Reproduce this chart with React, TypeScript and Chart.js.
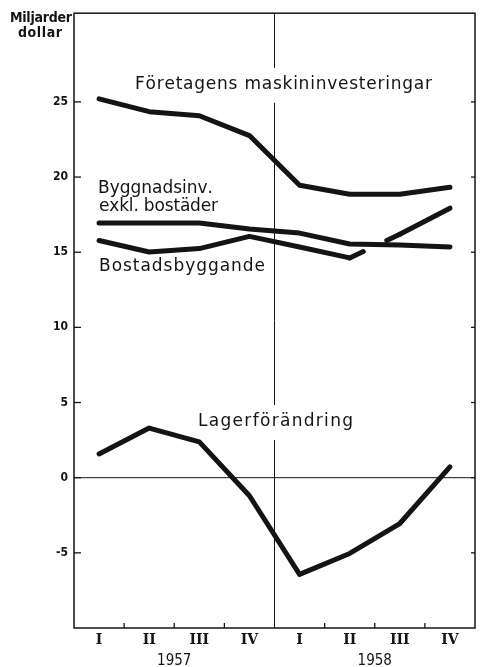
import { useEffect, useRef } from 'react';
import { Chart, registerables } from 'chart.js';

Chart.register(...registerables);

// ---- data ----
const quarterLabels = ['I', 'II', 'III', 'IV', 'I', 'II', 'III', 'IV'];
const yearLabels = ['1957', '1958'];
const yTickValues = [-5, 0, 5, 10, 15, 20, 25];
const maskininvesteringar = [25.2, 24.35, 24.08, 22.76, 19.45, 18.86, 18.86, 19.32];
const byggnadsinv = [16.94, 16.94, 16.94, 16.54, 16.27, 15.55, 15.48, 15.35];
const bostadsbyggande = [15.78, 15.01, 15.24, 16.05, 15.35, 14.62, 16.19, 17.93];
const lagerforandring = [1.58, 3.3, 2.38, -1.2, -6.43, -5.04, -3.05, 0.72];
const axisTitle = ['Miljarder', 'dollar'];
const seriesLabels = [
  { text: 'Företagens maskininvesteringar', x: 0.717, y: 25.87, width: 297, knockout: true },
  { text: 'Byggnadsinv.', x: -0.021, y: 18.92, width: 115, knockout: false },
  { text: 'exkl. bostäder', x: -0.001, y: 17.73, width: 119, knockout: false },
  { text: 'Bostadsbyggande', x: -0.001, y: 13.76, width: 166, knockout: false },
  { text: 'Lagerförändring', x: 1.974, y: 3.44, width: 155, knockout: true },
];

const INK = '#141414';

function drawSpaced(ctx: CanvasRenderingContext2D, text: string, left: number, baseline: number, width: number) {
  const chars = Array.from(text);
  const widths = chars.map((c) => ctx.measureText(c).width);
  const total = widths.reduce((a, b) => a + b, 0);
  const gap = chars.length > 1 ? (width - total) / (chars.length - 1) : 0;
  let x = left;
  chars.forEach((c, i) => {
    ctx.fillText(c, x, baseline);
    x += widths[i] + gap;
  });
}

const framePlugin = {
  id: 'frame',
  beforeDatasetsDraw(chart: any) {
    const { ctx, chartArea: a, scales } = chart;
    const x = scales.x;
    const y = scales.y;
    const line = (x1: number, y1: number, x2: number, y2: number) => {
      ctx.beginPath();
      ctx.moveTo(x1, y1);
      ctx.lineTo(x2, y2);
      ctx.stroke();
    };
    ctx.save();
    ctx.strokeStyle = INK;
    ctx.fillStyle = INK;
    ctx.lineCap = 'butt';
    // frame
    ctx.lineWidth = 1.5;
    ctx.strokeRect(a.left, a.top, a.right - a.left, a.bottom - a.top);
    // zero line
    ctx.lineWidth = 1;
    const y0 = y.getPixelForValue(0);
    line(a.left, y0, a.right, y0);
    // year divider
    const xd = x.getPixelForValue(3.5);
    line(xd, a.top, xd, a.bottom);
    // bottom ticks (inward)
    ctx.lineWidth = 1.3;
    for (let i = 0; i < quarterLabels.length - 1; i++) {
      if (i === 3) continue;
      const px = x.getPixelForValue(i + 0.5);
      line(px, a.bottom, px, a.bottom - 5);
    }
    // y ticks (inward)
    for (const v of yTickValues) {
      const py = y.getPixelForValue(v);
      line(a.left, py, a.left + 7, py);
      line(a.right, py, a.right - 4, py);
    }
    // series labels
    ctx.font = '17px "DejaVu Sans"';
    ctx.textBaseline = 'alphabetic';
    ctx.textAlign = 'left';
    for (const lab of seriesLabels) {
      const lx = x.getPixelForValue(lab.x);
      const ly = y.getPixelForValue(lab.y);
      if (lab.knockout) {
        ctx.fillStyle = '#fff';
        ctx.fillRect(lx - 4, ly - 21, lab.width + 8, 35);
        ctx.fillStyle = INK;
      }
      drawSpaced(ctx, lab.text, lx, ly, lab.width);
    }
    // year labels
    ctx.font = '15px "DejaVu Sans Condensed"';
    ctx.textAlign = 'center';
    yearLabels.forEach((yr, k) => {
      const cx = (x.getPixelForValue(4 * k + 1) + x.getPixelForValue(4 * k + 2)) / 2;
      ctx.fillText(yr, cx, a.bottom + 37);
    });
    // axis title
    ctx.font = 'bold 14px "DejaVu Sans Condensed"';
    ctx.textAlign = 'left';
    drawSpaced(ctx, axisTitle[0], 10, 22, 62);
    drawSpaced(ctx, axisTitle[1], 18, 37, 44);
    ctx.restore();
  },
};

const lineStyle = {
  borderColor: INK,
  backgroundColor: INK,
  borderWidth: 5,
  pointRadius: 0,
  pointHoverRadius: 0,
  tension: 0,
  fill: false,
  borderCapStyle: 'round' as const,
  borderJoinStyle: 'round' as const,
};

export default function App() {
  const ref = useRef<HTMLCanvasElement>(null);
  useEffect(() => {
    const chart = new Chart(ref.current!, {
      type: 'line',
      data: {
        labels: quarterLabels,
        datasets: [
          { label: 'Företagens maskininvesteringar', data: maskininvesteringar, ...lineStyle },
          { label: 'Byggnadsinv. exkl. bostäder', data: byggnadsinv, ...lineStyle },
          {
            label: 'Bostadsbyggande',
            data: bostadsbyggande,
            ...lineStyle,
            segment: {
              borderDash: (c: any) => (c.p0DataIndex === 5 ? [15, 26, 80] : undefined),
            },
          },
          { label: 'Lagerförändring', data: lagerforandring, ...lineStyle },
        ],
      },
      options: {
        responsive: false,
        animation: false,
        events: [],
        layout: { padding: { top: 10, right: 5, left: 0, bottom: 0 } },
        plugins: { legend: { display: false }, tooltip: { enabled: false }, title: { display: false } },
        scales: {
          x: {
            type: 'category',
            offset: true,
            grid: { display: false, drawTicks: false },
            border: { display: false },
            ticks: {
              color: INK,
              padding: 4,
              maxRotation: 0,
              autoSkip: false,
              font: { family: '"DejaVu Serif"', weight: 'bold', size: 14 },
            },
            afterFit: (s: any) => {
              s.height = 39;
            },
          },
          y: {
            type: 'linear',
            min: -10,
            max: 30.9,
            grid: { display: false, drawTicks: false },
            border: { display: false },
            afterBuildTicks: (s: any) => {
              s.ticks = yTickValues.map((v) => ({ value: v }));
            },
            ticks: {
              color: INK,
              padding: 6,
              font: { family: '"DejaVu Sans Condensed"', weight: 'bold', size: 12 },
            },
            afterFit: (s: any) => {
              s.width = 74;
            },
          },
        },
      },
      plugins: [framePlugin],
    });
    return () => chart.destroy();
  }, []);
  return (
    <div style={{ position: 'fixed', left: 0, top: 0, width: 480, height: 667, background: '#fff' }}>
      <canvas ref={ref} width={480} height={667} style={{ display: 'block', width: 480, height: 667 }} />
    </div>
  );
}
